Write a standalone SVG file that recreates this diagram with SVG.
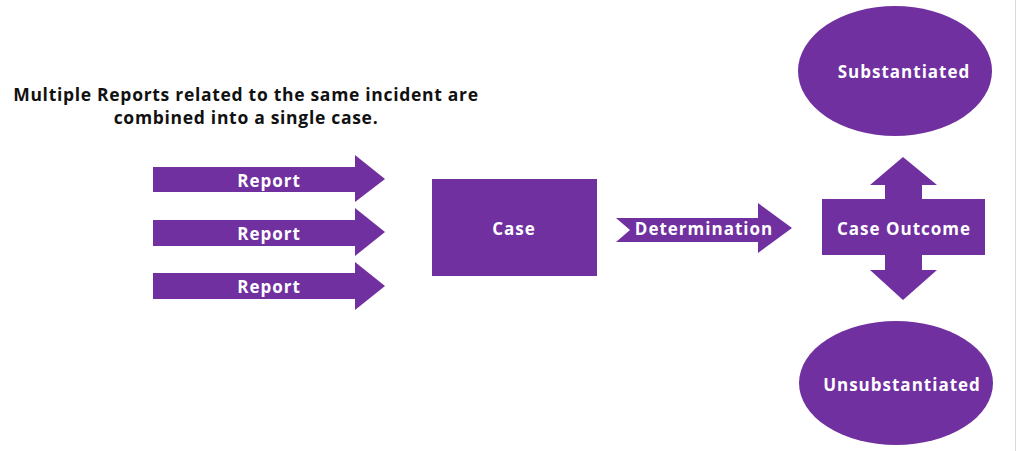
<svg xmlns="http://www.w3.org/2000/svg" width="1021" height="451" viewBox="0 0 1021 451">
<style>
.shape{fill:#7030A0;}
.lbl{fill:#ffffff;font-family:"Open Sans","Liberation Sans",sans-serif;font-weight:bold;font-size:17px;letter-spacing:1px;text-anchor:middle;dominant-baseline:central;}
.title{fill:#111111;font-family:"Open Sans","Liberation Sans",sans-serif;font-weight:bold;font-size:17.5px;letter-spacing:0.7px;text-anchor:middle;}
</style>
<rect width="1021" height="451" fill="#ffffff"/>
<line x1="1015.5" y1="0" x2="1015.5" y2="451" stroke="#d9d9d9" stroke-width="1"/>
<g id="title">
<text class="title" x="246" y="101">Multiple Reports related to the same incident are</text>
<text class="title" x="246" y="124">combined into a single case.</text>
</g>
<g id="connectors">
<g id="report1">
<path class="shape" d="M153,167 H355 V155 L385,179 L355,202 V192 H153 Z"/>
<text class="lbl" x="269" y="180">Report</text>
</g>
<g id="report2">
<path class="shape" d="M153,220 H355 V208 L385,232 L355,256 V246 H153 Z"/>
<text class="lbl" x="269" y="233">Report</text>
</g>
<g id="report3">
<path class="shape" d="M153,273 H355 V262 L385,286 L355,310 V299 H153 Z"/>
<text class="lbl" x="269" y="286">Report</text>
</g>
<g id="determination">
<path class="shape" d="M616,218 H758 V203 L792,228 L758,253 V242 H616 L630,230 Z"/>
<text class="lbl" x="704" y="228">Determination</text>
</g>
</g>
<g id="case">
<rect class="shape" x="432" y="179" width="165" height="97"/>
<text class="lbl" x="514" y="228">Case</text>
</g>
<g id="case-outcome">
<path class="shape" d="M903,157 L937,185 H922 V199 H985 V255 H922 V270 H937 L903,300 L870,270 H885 V255 H822 V199 H885 V185 H870 Z"/>
<text class="lbl" x="904" y="228">Case Outcome</text>
</g>
<g id="substantiated">
<ellipse class="shape" cx="895" cy="71" rx="97" ry="65"/>
<text class="lbl" x="904" y="71">Substantiated</text>
</g>
<g id="unsubstantiated">
<ellipse class="shape" cx="896" cy="383" rx="97" ry="62"/>
<text class="lbl" x="902" y="384">Unsubstantiated</text>
</g>
</svg>
